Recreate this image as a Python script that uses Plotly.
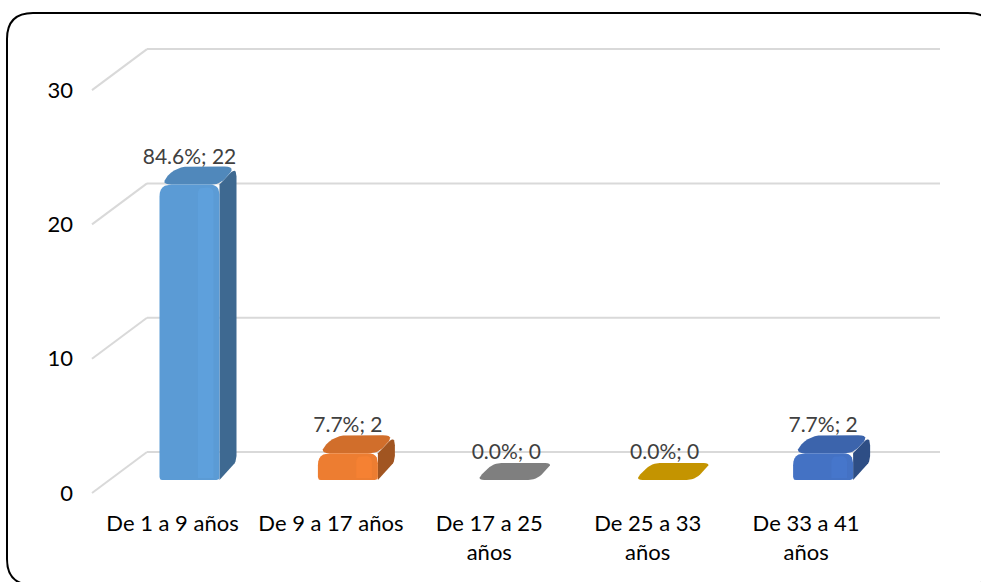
import numpy as np
import plotly.graph_objects as go

# ---------------- data ----------------
categories = ["De 1 a 9 años", "De 9 a 17 años", "De 17 a 25 años", "De 25 a 33 años", "De 33 a 41 años"]
tick_text = ["De 1 a 9 años", "De 9 a 17 años", "De 17 a 25<br>años", "De 25 a 33<br>años", "De 33 a 41<br>años"]
counts = [22, 2, 0, 0, 2]
y_ticks = [0, 10, 20, 30]
bar_colors = ["#5B9BD5", "#ED7D31", "#A5A5A5", "#FFC000", "#4472C4"]

total = sum(counts)
labels = [f"{100 * c / total:.1f}%; {c}" for c in counts]

# ---------------- geometry (pseudo 3D) ----------------
W, H = 981, 582
PL, PR, PT, PB = 80, 950, 25, 505          # plot area in px
PX_X = 158.4                               # px per category step
PX_Y = 13.43                               # px per value unit
X0_PX, Y0_PX = 172.5, 493                  # px of x=0 / y=0 (front plane)
x_range = [(PL - X0_PX) / PX_X, (PR - X0_PX) / PX_X]
y_range = [(Y0_PX - PB) / PX_Y, (Y0_PX - PT) / PX_Y]

grid_left = (92 - X0_PX) / PX_X
grid_right = (940 - X0_PX) / PX_X
back_dx = 55 / PX_X
back_dy = 41 / PX_Y

bar_shift = 17 / PX_X          # bars sit deeper than the front plane
bar_half = 30 / PX_X
bar_base = 13 / PX_Y
depth_dx = 17                  # px
depth_dy = 18                  # px


def shade(hex_color, f):
    h = hex_color.lstrip("#")
    r, g, b = (int(h[i:i + 2], 16) for i in (0, 2, 4))
    r, g, b = (max(0, min(255, int(round(c * f)))) for c in (r, g, b))
    return f"#{r:02X}{g:02X}{b:02X}"


def round_poly(pts, radii, n=7):
    out = []
    m = len(pts)
    for i in range(m):
        p0 = np.array(pts[i - 1], float)
        p1 = np.array(pts[i], float)
        p2 = np.array(pts[(i + 1) % m], float)
        d1, d2 = p0 - p1, p2 - p1
        l1, l2 = np.hypot(*d1), np.hypot(*d2)
        rr = min(radii[i], l1 / 2 if l1 else 0, l2 / 2 if l2 else 0)
        if rr <= 0:
            out.append(p1)
            continue
        a = p1 + d1 / l1 * rr
        b = p1 + d2 / l2 * rr
        for t in np.linspace(0, 1, n):
            out.append((1 - t) ** 2 * a + 2 * (1 - t) * t * p1 + t ** 2 * b)
    out.append(out[0])
    arr = np.array(out)
    # px-space -> data space
    return list(arr[:, 0] / PX_X), list(arr[:, 1] / PX_Y)


fig = go.Figure()


def face(pts, radii, color):
    xs, ys = round_poly(pts, radii)
    fig.add_trace(go.Scatter(x=xs, y=ys, mode="lines", fill="toself",
                             fillcolor=color, line=dict(width=0, color=color),
                             hoverinfo="skip", showlegend=False))


for i, (v, col) in enumerate(zip(counts, bar_colors)):
    c = (i + bar_shift) * PX_X
    L, R = c - bar_half * PX_X, c + bar_half * PX_X
    B = bar_base * PX_Y
    T = (bar_base + v) * PX_Y
    dx, dy = depth_dx, depth_dy
    if v > 0:
        face([(R, B), (R + dx, B + dy), (R + dx, T + dy), (R, T)], [0, 6, 10, 0], shade(col, 0.68))
        face([(L, T), (R, T), (R + dx, T + dy), (L + dx, T + dy)], [12, 8, 12, 14], shade(col, 0.88))
        face([(L, B), (R, B), (R, T), (L, T)], [3, 3, 10, 12], col)
        # soft highlight band on the front face
        hl = [(R - 0.36 * (R - L), B + 2), (R - 0.10 * (R - L), B + 2),
              (R - 0.10 * (R - L), T - 3), (R - 0.36 * (R - L), T - 3)]
        face(hl, [0, 0, 6, 6], shade(col, 1.035))
    else:
        face([(L, T), (R, T), (R + dx, T + dy - 1), (L + dx, T + dy - 1)], [8, 8, 8, 8], shade(col, 0.77))

# data labels
label_x = [i + bar_shift for i in range(len(counts))]
label_y = [bar_base + v + 26 / PX_Y for v in counts]
fig.add_trace(go.Scatter(x=label_x, y=label_y, mode="text", text=labels,
                         textposition="middle center",
                         textfont=dict(family="Lato", size=21, color="#404040"),
                         hoverinfo="skip", showlegend=False))

# gridlines (back wall + floor perspective)
shapes = []
grid_col = "#D9D9D9"
for t in y_ticks:
    shapes.append(dict(type="line", xref="x", yref="y", layer="below",
                       x0=grid_left, y0=t, x1=grid_left + back_dx, y1=t + back_dy,
                       line=dict(color=grid_col, width=2)))
    shapes.append(dict(type="line", xref="x", yref="y", layer="below",
                       x0=grid_left + back_dx, y0=t + back_dy, x1=grid_right, y1=t + back_dy,
                       line=dict(color=grid_col, width=2)))

# rounded chart border (paper coords)
def px2paper(px, py):
    return (px - PL) / (PR - PL), (PB - py) / (PB - PT)

bl, bt, br, bb, rad = 7, 13, 994, 585, 26
pts = {
    "a": px2paper(bl, bt + rad), "b": px2paper(bl, bt), "c": px2paper(bl + rad, bt),
    "d": px2paper(br - rad, bt), "e": px2paper(br, bt), "f": px2paper(br, bt + rad),
    "g": px2paper(br, bb - rad), "h": px2paper(br, bb), "i": px2paper(br - rad, bb),
    "j": px2paper(bl + rad, bb), "k": px2paper(bl, bb), "l": px2paper(bl, bb - rad),
}
P = lambda k: f"{pts[k][0]:.5f},{pts[k][1]:.5f}"
path = (f"M {P('a')} Q {P('b')} {P('c')} L {P('d')} Q {P('e')} {P('f')} "
        f"L {P('g')} Q {P('h')} {P('i')} L {P('j')} Q {P('k')} {P('l')} Z")
shapes.append(dict(type="path", xref="paper", yref="paper", path=path,
                   line=dict(color="#000000", width=2), layer="above"))

fig.update_layout(
    width=W, height=H,
    margin=dict(l=PL, r=W - PR, t=PT, b=H - PB),
    paper_bgcolor="white", plot_bgcolor="white",
    shapes=shapes,
    font=dict(family="Lato", size=22, color="#000000"),
    xaxis=dict(range=x_range, tickmode="array", tickvals=list(range(len(categories))),
               ticktext=tick_text, showgrid=False, zeroline=False, showline=False,
               ticks="", tickfont=dict(family="Lato", size=22, color="#000000"),
               ticklabelstandoff=3, fixedrange=True),
    yaxis=dict(range=y_range, tickmode="array", tickvals=y_ticks,
               ticktext=[str(t) for t in y_ticks], showgrid=False, zeroline=False,
               showline=False, ticks="", ticklabelstandoff=6,
               tickfont=dict(family="Lato", size=22, color="#000000"), fixedrange=True),
)

fig.write_html("out.html", config={"displayModeBar": False},
               post_script="document.body.style.margin='0';document.body.style.overflow='hidden';")
